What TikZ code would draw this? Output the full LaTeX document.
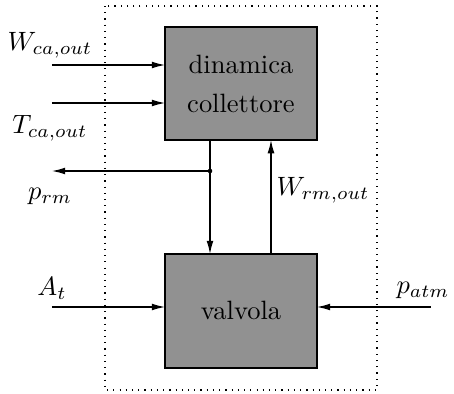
\documentclass[tikz,border=0pt]{standalone}
\usetikzlibrary{arrows.meta}
\definecolor{blockgray}{RGB}{145,145,145}
\begin{document}
\begin{tikzpicture}[x=0.3774pt,y=-0.3774pt,
  block/.style={draw,line width=0.6pt,fill=blockgray,inner sep=0pt},
  sig/.style={-{Latex[length=5pt,width=2.6pt]},line width=0.45pt},
  lbl/.style={inner sep=0pt}]
\useasboundingbox (0,0) rectangle (454,394);
% system boundary
\draw[line width=0.45pt,dash pattern=on 0.45pt off 1.9pt] (105,6) rectangle (377,390);
% blocks
\draw[block] (165,27) rectangle (317,140);
\draw[block] (165,254) rectangle (317,368);
\node[align=center,lbl] (coll) at (241,84) {dinamica\\[3pt]collettore};
\node[lbl] (valv) at (241,310) {valvola};
% anchor coordinates on the block edges
\coordinate (cin1) at (165,65);
\coordinate (cin2) at (165,103);
\coordinate (cb1) at (210,140);
\coordinate (cb2) at (271,140);
\coordinate (vt1) at (210,254);
\coordinate (vt2) at (271,254);
\coordinate (vl) at (165,307);
\coordinate (vr) at (317,307);
\coordinate (split) at (210,171);
% free ends
\coordinate (w1) at (52,65);
\coordinate (w2) at (52,103);
\coordinate (prmend) at (52,171);
\coordinate (atin) at (52,307);
\coordinate (patin) at (431,307);
% connectors
\draw[sig] (w1) -- (cin1);
\draw[sig] (w2) -- (cin2);
\draw[line width=0.45pt] (cb1) -- (split);
\draw[sig] (split) -- (prmend);
\draw[sig] (split) -- (vt1);
\fill (split) circle (2.3);
\draw[sig] (vt2) -- (cb2);
\draw[sig] (atin) -- (vl);
\draw[sig] (patin) -- (vr);
% labels
\node[lbl] (lW) at (50,45) {$W_{ca,out}$};
\node[lbl] (lT) at (50,128) {$T_{ca,out}$};
\node[lbl] (lp) at (50,196) {$p_{rm}$};
\node[lbl] (lWr) at (323,190) {$W_{rm,out}$};
\node[lbl] (lA) at (52,288) {$A_t$};
\node[lbl] (lpa) at (423,290) {$p_{atm}$};
\end{tikzpicture}
\end{document}
